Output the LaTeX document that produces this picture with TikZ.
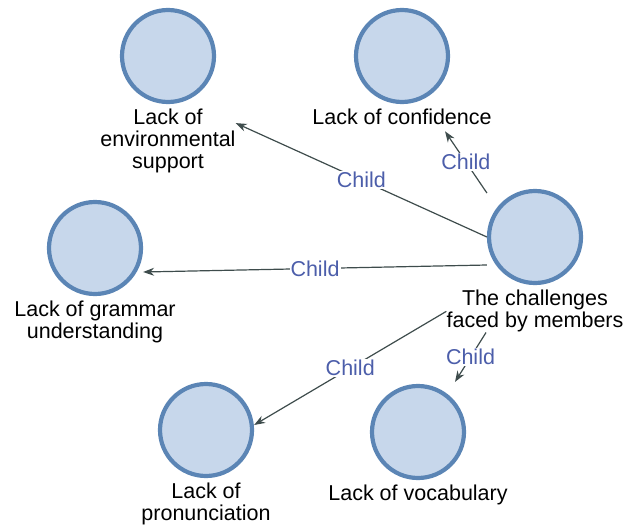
\documentclass[tikz,border=0pt]{standalone}
\usepackage{fontspec}
\setmainfont{Liberation Sans}
\usepackage{tikz}
\usetikzlibrary{positioning,arrows.meta}

\definecolor{ringblue}{HTML}{5B85B5}
\definecolor{fillblue}{HTML}{C7D7EB}
\definecolor{edgegray}{HTML}{3E4C4C}
\definecolor{childblue}{HTML}{4C5EAA}

\begin{document}
\begin{tikzpicture}[x=1pt,y=-1pt,
        topic/.style={circle, draw=ringblue, line width=4.2pt, fill=fillblue, minimum size=92pt, inner sep=0pt},
        caption/.style={align=center, inner sep=0pt, font=\fontsize{21.5}{22}\selectfont},
        link/.style={draw=edgegray, line width=1.2pt, -{Stealth[length=11pt,width=8pt]}},
        tag/.style={fill=white, inner sep=1pt, text=childblue, font=\fontsize{21.5}{22}\selectfont}]
        \useasboundingbox (0,0) rectangle (628,530);

        % Circles
        \node[topic] (c) at (535,237) {};
        \node[topic] (a) at (168,56) {};
        \node[topic] (b) at (402,56) {};
        \node[topic] (d) at (95,248) {};
        \node[topic] (e) at (206,430) {};
        \node[topic] (f) at (418,432) {};

        % Captions
        \node[caption, below=5pt of c] (cl) {The challenges\\faced by members};
        \node[caption, below=5pt of a] (al) {Lack of\\environmental\\support};
        \node[caption, below=5pt of b] (bl) {Lack of confidence};
        \node[caption, below=5pt of d] (dl) {Lack of grammar\\understanding};
        \node[caption, below=5pt of e] (el) {Lack of\\pronunciation};
        \node[caption, below=5pt of f] (fl) {Lack of vocabulary};

        % Child links
        \draw[link] (c.west) -- node[tag] {Child} ([yshift=-14pt]al.north east);
        \draw[link] ([yshift=44pt]c.west) -- node[tag] {Child} ([xshift=43pt,yshift=-6pt]bl.south);
        \draw[link] ([yshift=-28pt]c.west) -- node[tag] {Child} ([yshift=-24pt]d.east);
        \draw[link] (cl.west) -- node[tag] {Child} ([yshift=5pt]e.east);
        \draw[link] ([xshift=-49pt]cl.south) -- node[tag] {Child} ([xshift=37pt,yshift=2pt]f.north);
\end{tikzpicture}
\end{document}
